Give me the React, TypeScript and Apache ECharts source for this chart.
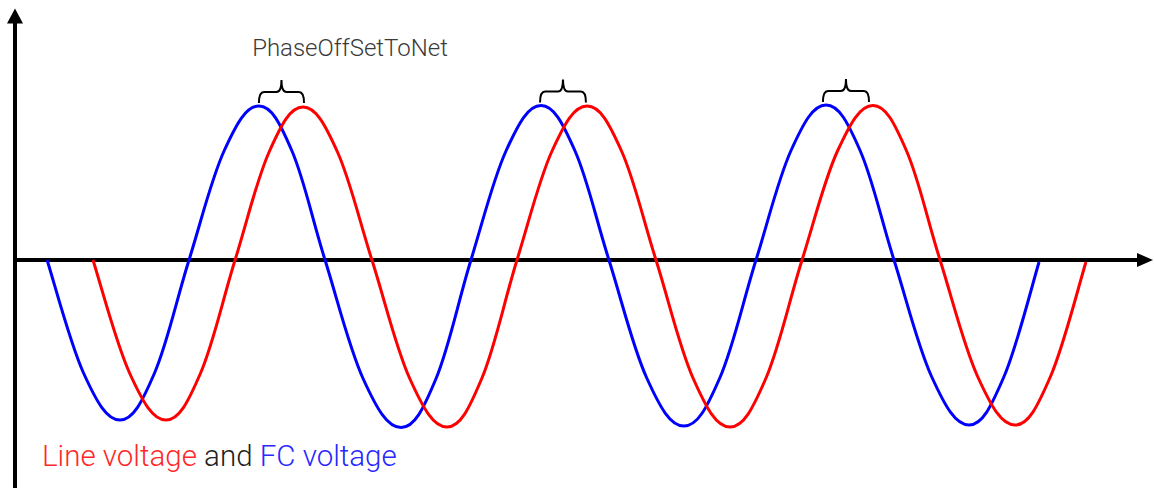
import React, { useEffect, useRef } from "react";
import * as echarts from "echarts";

// time in ms, voltage in V
const blueT = [2.27, 4.85, 7.43, 9.88, 12.32, 14.8, 17.27, 19.61, 21.95, 24.64, 27.33, 29.81, 32.28, 34.76, 37.24, 39.65, 42.05, 44.71, 47.36, 49.91, 52.46, 54.94, 57.42, 59.83, 62.23, 64.89, 67.54, 70.02, 72.5];
const blueV = [0, -226, -320, -226, 0, 218, 308, 218, 0, -237, -335, -237, 0, 218, 309, 218, 0, -235, -332, -235, 0, 219, 310, 219, 0, -233, -330, -233, -4];

const redT = [5.52, 8.11, 10.69, 13.14, 15.58, 17.99, 20.39, 22.83, 25.27, 27.93, 30.58, 33.06, 35.54, 38.02, 40.5, 42.94, 45.38, 48.0, 50.62, 53.17, 55.72, 58.23, 60.74, 63.12, 65.49, 68.15, 70.8, 73.31, 75.82];
const redV = [0, -226, -320, -226, 0, 216, 306, 216, 0, -236, -334, -236, 0, 218, 308, 218, 0, -236, -334, -236, 0, 218, 309, 218, 0, -233, -330, -233, -4];

// braces spanning the phase offset between the two peaks
const braceStartT = [17.27, 37.17, 57.2];
const braceEndT = [20.46, 40.42, 60.46];
const bracePeakV = [308, 309, 310];

const titleText = "PhaseOffSetToNet";
const legendRed = "Line voltage";
const legendAnd = "and";
const legendBlue = "FC voltage";

const X_MIN = 0;
const X_MAX = 80;
const Y_MIN = -456;
const Y_MAX = 488;

const curves = [
  { t: blueT, v: blueV, color: "#0000ff" },
  { t: redT, v: redV, color: "#ff0000" },
];

export default function App() {
  const ref = useRef<HTMLDivElement>(null);

  useEffect(() => {
    document.body.style.margin = "0";
    if (!ref.current) return;
    const chart = echarts.init(ref.current, undefined, { renderer: "svg" });

    const curveData = curves.map((c, i) => [c.t[0], c.v[0], i]);
    const braceData = braceStartT.map((t, i) => [t, braceEndT[i], bracePeakV[i]]);

    const font = "Roboto, 'Open Sans', sans-serif";
    const k = 0.185;

    chart.setOption({
      animation: false,
      backgroundColor: "#ffffff",
      grid: { left: 15, top: 16, width: 1130, bottom: 0, containLabel: false },
      xAxis: {
        type: "value",
        min: X_MIN,
        max: X_MAX,
        axisLine: {
          show: true,
          onZero: true,
          symbol: ["none", "triangle"],
          symbolSize: [14, 16],
          lineStyle: { color: "#000", width: 4 },
        },
        axisTick: { show: false },
        axisLabel: { show: false },
        splitLine: { show: false },
      },
      yAxis: {
        type: "value",
        min: Y_MIN,
        max: Y_MAX,
        axisLine: {
          show: true,
          onZero: true,
          symbol: ["none", "triangle"],
          symbolSize: [16, 15],
          lineStyle: { color: "#000", width: 4 },
        },
        axisTick: { show: false },
        axisLabel: { show: false },
        splitLine: { show: false },
      },
      series: [
        {
          type: "custom",
          name: "voltages",
          silent: true,
          data: curveData,
          encode: { x: 0, y: 1 },
          clip: false,
          renderItem: (params: any, api: any) => {
            const c = curves[api.value(2)];
            const pts = c.t.map((t: number, i: number) => api.coord([t, c.v[i]]));
            const n = pts.length;
            let d = `M${pts[0][0]},${pts[0][1]}`;
            for (let i = 0; i < n - 1; i++) {
              const p0 = pts[Math.max(i - 1, 0)];
              const p1 = pts[i];
              const p2 = pts[i + 1];
              const p3 = pts[Math.min(i + 2, n - 1)];
              const c1x = p1[0] + (p2[0] - p0[0]) * k;
              const c1y = p1[1] + (p2[1] - p0[1]) * k;
              const c2x = p2[0] - (p3[0] - p1[0]) * k;
              const c2y = p2[1] - (p3[1] - p1[1]) * k;
              d += ` C${c1x},${c1y} ${c2x},${c2y} ${p2[0]},${p2[1]}`;
            }
            return {
              type: "path",
              shape: { pathData: d },
              style: { fill: "none", stroke: c.color, lineWidth: 3, lineJoin: "round" },
            };
          },
          z: 3,
        },
        {
          type: "custom",
          name: "braces",
          silent: true,
          data: braceData,
          encode: { x: [0, 1], y: 2 },
          renderItem: (params: any, api: any) => {
            const p1 = api.coord([api.value(0), api.value(2)]);
            const p2 = api.coord([api.value(1), api.value(2)]);
            const x1 = p1[0];
            const x2 = p2[0];
            const xm = (x1 + x2) / 2;
            const yb = p1[1] - 3;
            const yh = yb - 11;
            const yt = yb - 23;
            const r = 5;
            const d =
              `M${x1},${yb} Q${x1},${yh} ${x1 + r},${yh} L${xm - r},${yh} ` +
              `Q${xm},${yh} ${xm},${yt} Q${xm},${yh} ${xm + r},${yh} ` +
              `L${x2 - r},${yh} Q${x2},${yh} ${x2},${yb}`;
            return {
              type: "path",
              shape: { pathData: d },
              style: { fill: "none", stroke: "#000", lineWidth: 2 },
            };
          },
          z: 4,
        },
      ],
      graphic: [
        {
          type: "text",
          x: 350,
          y: 48,
          style: {
            text: titleText,
            font: `300 24px ${font}`,
            fill: "#3a3a3a",
            align: "center",
            verticalAlign: "middle",
          },
        },
        {
          type: "text",
          x: 42,
          y: 456,
          style: {
            text: `{r|${legendRed} }{k|${legendAnd} }{b|${legendBlue}}`,
            verticalAlign: "middle",
            align: "left",
            rich: {
              r: { fill: "#ff2828", font: `300 29.5px ${font}` },
              k: { fill: "#222222", font: `300 29.5px ${font}` },
              b: { fill: "#2828ff", font: `300 29.5px ${font}` },
            },
          },
        },
      ],
    });

    return () => chart.dispose();
  }, []);

  return <div ref={ref} style={{ width: 1154, height: 488 }} />;
}
